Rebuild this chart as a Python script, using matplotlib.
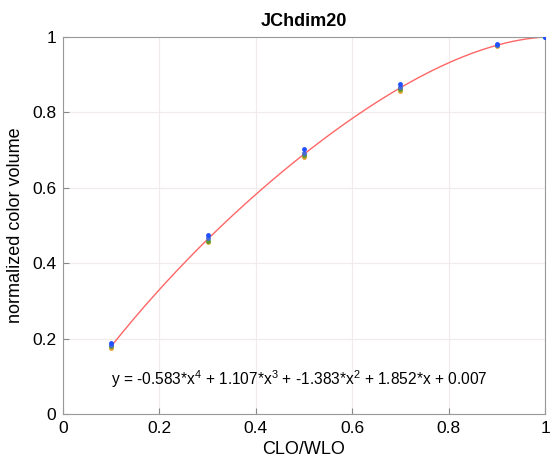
import numpy as np
import matplotlib
matplotlib.use('Agg')
import matplotlib.pyplot as plt

plt.rcParams['font.family'] = ['Liberation Sans', 'DejaVu Sans']
plt.rcParams['mathtext.fontset'] = 'custom'
plt.rcParams['mathtext.rm'] = 'Liberation Sans'
plt.rcParams['mathtext.it'] = 'Liberation Sans'

# measured points (CLO/WLO vs normalized color volume), one list per series
clo = [0.1, 0.3, 0.5, 0.7, 0.9, 1.0]
vol_blue = [0.188, 0.475, 0.702, 0.875, 0.982, 1.0]
vol_purple = [0.184, 0.466, 0.693, 0.868, 0.980, 1.0]
vol_orange = [0.176, 0.455, 0.682, 0.858, 0.977, 1.0]
vol_green = [0.180, 0.460, 0.686, 0.862, 0.978, 1.0]

# polynomial fit coefficients (highest power first)
coefs = [-0.583, 1.107, -1.383, 1.852, 0.007]

fig = plt.figure(figsize=(5.5, 4.66), dpi=100)
ax = fig.add_axes([0.1145, 0.1116, 0.8765, 0.809])

xs = np.linspace(clo[0], clo[-1], 200)
ax.plot(xs, np.polyval(coefs, xs), '-', color='#ff6666', lw=1.0, zorder=2)

ax.plot(clo, vol_orange, 'o', color='#e0a030', ms=3.5, mec='none', zorder=3)
ax.plot(clo, vol_green, 'o', color='#5a9a30', ms=3.5, mec='none', zorder=3)
ax.plot(clo, vol_purple, 'o', color='#4a6ad0', ms=3.5, mec='none', zorder=3)
ax.plot(clo, vol_blue, 'o', color='#2050ff', ms=3.5, mec='none', zorder=4)

ax.set_xlim(0, 1)
ax.set_ylim(0, 1)
ax.set_xticks([0, 0.2, 0.4, 0.6, 0.8, 1])
ax.set_xticklabels(['0', '0.2', '0.4', '0.6', '0.8', '1'])
ax.set_yticks([0, 0.2, 0.4, 0.6, 0.8, 1])
ax.set_yticklabels(['0', '0.2', '0.4', '0.6', '0.8', '1'])
ax.tick_params(direction='in', length=4, labelsize=12.5, color='#888888', pad=5)
ax.grid(True, color='#f0eaea', lw=0.8)
for s in ax.spines.values():
    s.set_color('#999999')
    s.set_linewidth(0.8)

ax.set_title('JChdim20', fontsize=13, fontweight='bold', pad=8)
ax.set_xlabel('CLO/WLO', fontsize=13, labelpad=4)
ax.set_ylabel('normalized color volume', fontsize=13, labelpad=6)

eq = (r'y = -0.583*x$^{4}$ + 1.107*x$^{3}$ + -1.383*x$^{2}$ + 1.852*x + 0.007')
ax.text(0.49, 0.093, eq, fontsize=11.2, ha='center', va='center')

fig.savefig('out.png', dpi=100, facecolor='white')
